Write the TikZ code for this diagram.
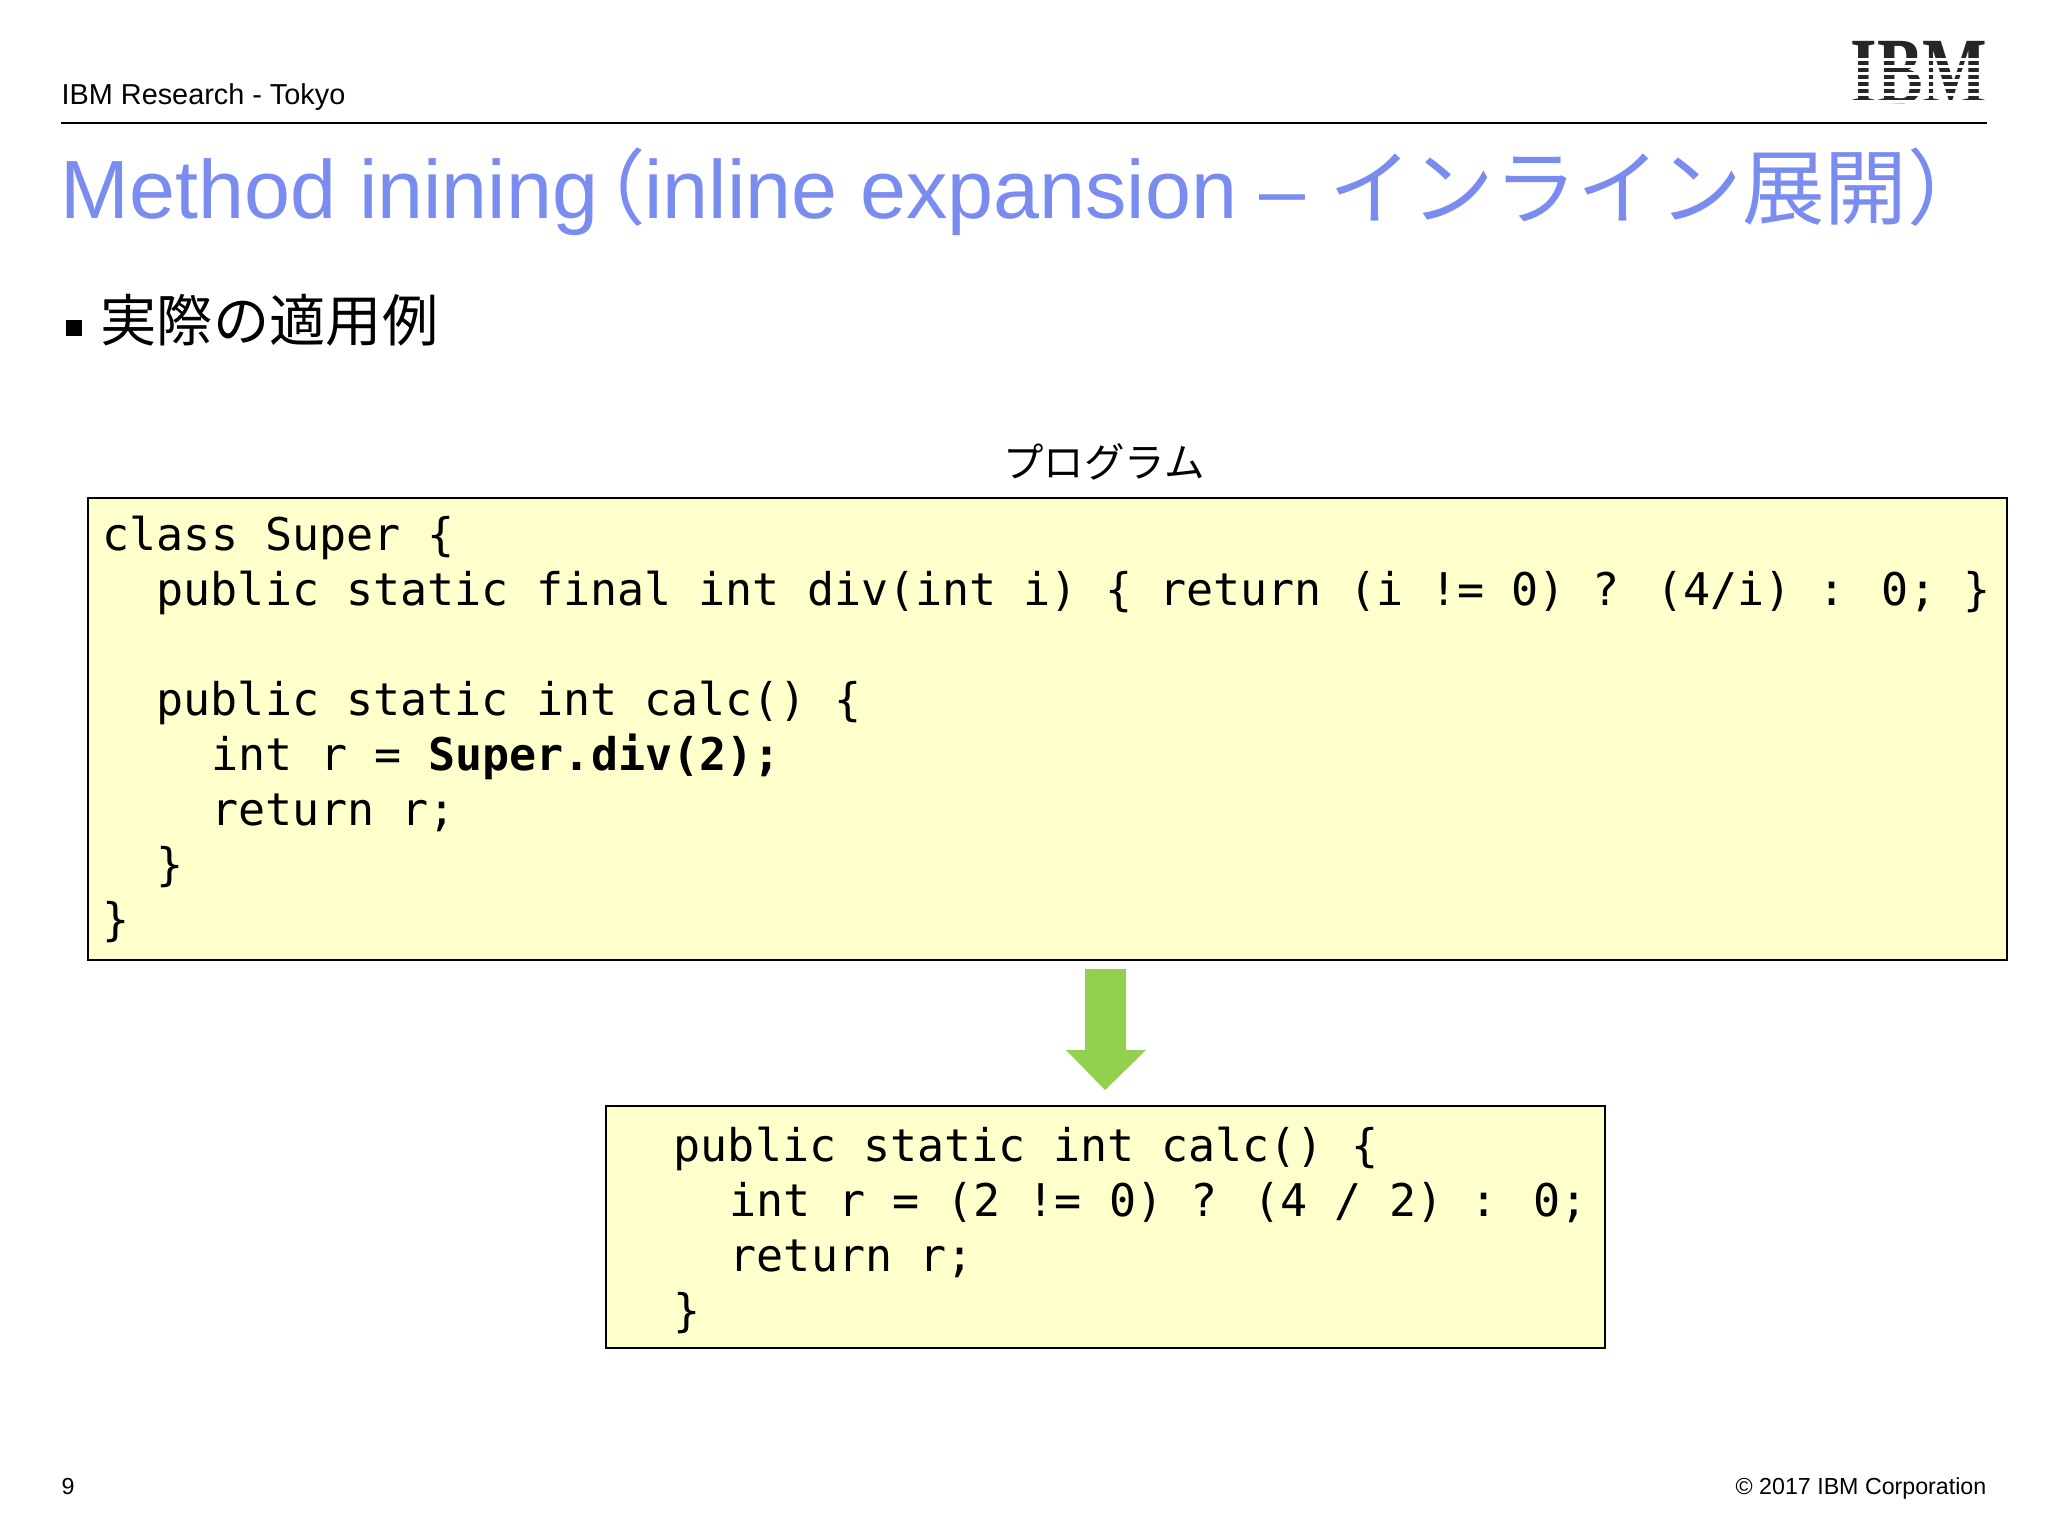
\documentclass[tikz,border=0pt]{standalone}
\usepackage{fontspec}
\setmainfont{Liberation Sans}
\newfontfamily\cjk{Noto Sans CJK JP}
\newfontfamily\code{DejaVu Sans Mono}
\newfontfamily\logofont{Liberation Serif}
\definecolor{titleblue}{RGB}{122,140,240}
\definecolor{codebg}{RGB}{255,255,204}
\definecolor{arrowgreen}{RGB}{146,208,80}
\begin{document}
\begin{tikzpicture}[x=0.01cm,y=-0.01cm,
  codebox/.style={draw=black,line width=0.8pt,fill=codebg},
  codeline/.style={anchor=mid west,inner sep=0pt,font=\code\fontsize{12.8pt}{14pt}\selectfont}]
\useasboundingbox (0,0) rectangle (2048,1536);
\fill[white] (0,0) rectangle (2048,1536);
% header
\node[anchor=base west,inner sep=0pt,font=\fontsize{8.2pt}{10pt}\selectfont] (hdr) at (61,104) {IBM Research - Tokyo};
\coordinate (l1) at (61,123); \coordinate (l2) at (1987,123);
\draw[line width=0.8pt] (l1) -- (l2);
\node[anchor=south east,inner sep=0pt,font=\logofont\bfseries\fontsize{27pt}{27pt}\selectfont,text=black!85] (logo) at (1988,104) {\scalebox{0.72}[1]{IBM}};
\foreach \yy in {58,65,72,79,86,93,100}{\fill[white] (1850,\yy) rectangle (1995,\yy+2.5);}
% title
\node[anchor=base west,inner sep=0pt,text=titleblue,font=\fontsize{23.5pt}{28pt}\selectfont] (title) at (60,218) {Method inining{\cjk\hspace{-0.42em}（\hspace{-0.02em}}inline expansion – {\cjk インライン展開）}};
% bullet
\fill (66,320) rectangle (82,336);
\node[anchor=mid west,inner sep=0pt,font=\cjk\fontsize{16pt}{18pt}\selectfont] (bul) at (100,332) {実際の適用例};
\node[inner sep=0pt,font=\cjk\fontsize{11.5pt}{13pt}\selectfont] (prog) at (1104,462) {プログラム};
% box 1
\draw[codebox] (88,498) rectangle (2007,960);
\node[codeline] (c1) at (102,541) {class Super \{};
\node[codeline] (c2) at (156,596) {public static final int div(int i) \{ return (i != 0) ? (4/i) : 0; \}};
\node[codeline] (c3) at (156,706) {public static int calc() \{};
\node[codeline] (c4) at (211,761) {int r = \textbf{Super.div(2);}};
\node[codeline] (c5) at (211,816) {return r;};
\node[codeline] (c6) at (156,871) {\}};
\node[codeline] (c7) at (102,926) {\}};
% arrow
\coordinate (a2) at (1105,1090);
\fill[arrowgreen] (1085,969) -- (1126,969) -- (1126,1050) -- (1146,1050) -- (a2) -- (1066,1050) -- (1085,1050) -- cycle;
% box 2
\draw[codebox] (606,1106) rectangle (1605,1348);
\node[codeline] (d1) at (673,1152) {public static int calc() \{};
\node[codeline] (d2) at (729,1207) {int r = (2 != 0) ? (4 / 2) : 0;};
\node[codeline] (d3) at (729,1262) {return r;};
\node[codeline] (d4) at (673,1317) {\}};
% footer
\node[anchor=base west,inner sep=0pt,font=\fontsize{6.6pt}{8pt}\selectfont] (pg) at (61,1494) {9};
\node[anchor=base east,inner sep=0pt,font=\fontsize{6.6pt}{8pt}\selectfont] (copy) at (1987,1494) {© 2017 IBM Corporation};
\end{tikzpicture}
\end{document}
